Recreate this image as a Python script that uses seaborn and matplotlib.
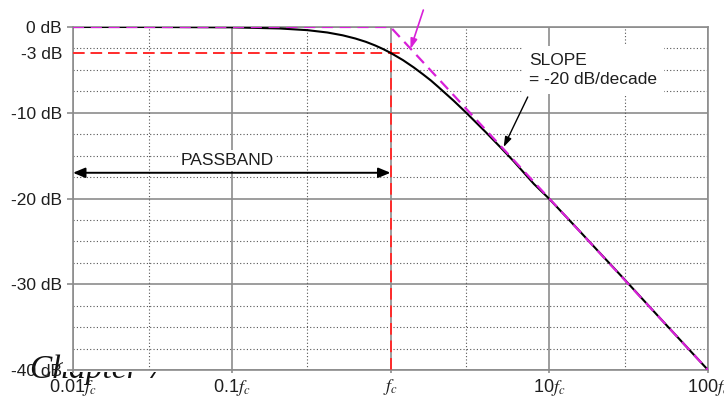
import numpy as np
import pandas as pd
import matplotlib
matplotlib.use("Agg")
import matplotlib.pyplot as plt
from matplotlib.patches import Rectangle
import seaborn as sns

# ---- data ----
freq_ratio = [0.01, 0.03, 0.1, 0.2, 0.3, 0.4, 0.5, 0.6, 0.7, 0.8, 0.9, 1.0,
              1.2, 1.4, 1.6, 1.8, 2.0, 2.5, 3.0, 4.0, 5.0, 6.0, 8.0, 10.0,
              15.0, 20.0, 30.0, 50.0, 100.0]
response_db = [0.0, 0.0, -0.04, -0.17, -0.37, -0.64, -0.97, -1.34, -1.73, -2.15,
               -2.58, -3.01, -3.87, -4.71, -5.51, -6.25, -6.99, -8.6, -10.0,
               -12.3, -14.15, -15.7, -18.3, -20.04, -23.5, -26.0, -29.5,
               -33.98, -40.0]
asymptote_freq = [0.01, 1.0, 100.0]
asymptote_db = [0.0, 0.0, -40.0]
cutoff_freq = 1.0
cutoff_db = -3.0
ytick_values = [0, -3, -10, -20, -30, -40]
ytick_labels = ["0 dB", "-3 dB", "-10 dB", "-20 dB", "-30 dB", "-40 dB"]
xtick_values = [0.01, 0.1, 1, 10, 100]
xtick_labels = ["0.01$f_c$", "0.1$f_c$", "$f_c$", "10$f_c$", "100$f_c$"]
x_minor = [0.03, 0.3, 3, 30]
y_major_grid = [0, -10, -20, -30, -40]
y_minor_grid = [-2.5, -5, -7.5, -12.5, -15, -17.5, -22.5, -25, -27.5,
                -32.5, -35, -37.5]

sns.set_theme(style="white")
plt.rcParams["font.family"] = ["Liberation Sans", "DejaVu Sans"]
plt.rcParams["mathtext.fontset"] = "stix"

MAJ = "#8c8c8c"
MIN = "#555555"
TXT = "#1e1e1e"
RED = "#ff2b2b"
MAG = "#d820d8"

fig = plt.figure(figsize=(7.24, 3.98), dpi=100)
fig.patch.set_facecolor("white")

# page heading partly hidden behind the chart picture
fig.text(30 / 724, (398 - 378) / 398, "Chapter 7", fontsize=24,
         family="Liberation Serif", style="italic", color="#111111",
         va="baseline", ha="left", zorder=-2)
fig.patches.append(Rectangle((63 / 724, (398 - 372) / 398), 1, 1,
                             transform=fig.transFigure, facecolor="white",
                             edgecolor="none", zorder=-1))

ax = fig.add_axes([73 / 724, 1 - 370 / 398, (708 - 73) / 724, (370 - 27) / 398])
ax.set_facecolor("white")
ax.set_xscale("log")
ax.set_xlim(0.01, 100)
ax.set_ylim(-40, 0)

# grid
for v in y_major_grid:
    ax.axhline(v, color=MAJ, lw=1.2, zorder=1)
for v in y_minor_grid:
    ax.axhline(v, color=MIN, lw=0.8, ls=(0, (1, 2)), zorder=1)
for v in xtick_values:
    ax.axvline(v, color=MAJ, lw=1.2, zorder=1)
for v in x_minor:
    ax.axvline(v, color=MIN, lw=0.8, ls=(0, (1, 2)), zorder=1)

# curves
df = pd.DataFrame({"f": freq_ratio, "db": response_db})
sns.lineplot(data=df, x="f", y="db", ax=ax, color="black", lw=1.5, zorder=4)
dfa = pd.DataFrame({"f": asymptote_freq, "db": asymptote_db})
sns.lineplot(data=dfa, x="f", y="db", ax=ax, color=MAG, lw=1.6,
             linestyle=(0, (5, 3)), zorder=5)

# cutoff markers
ax.plot([0.01, cutoff_freq * 1.14], [cutoff_db, cutoff_db], color=RED, lw=1.4,
        ls=(0, (6, 3)), zorder=3)
ax.plot([cutoff_freq, cutoff_freq], [-1.9, -40], color=RED, lw=1.4,
        ls=(0, (6, 3)), zorder=3)

# annotations
ax.annotate("", xy=(0.01, -17), xytext=(cutoff_freq, -17),
            arrowprops=dict(arrowstyle="<|-|>,head_length=0.6,head_width=0.25",
                            color="black", lw=1.4, shrinkA=0, shrinkB=0,
                            mutation_scale=12), zorder=6)
ax.text(0.0934, -15.6, "PASSBAND", ha="center", va="center", fontsize=12.5,
        color=TXT, zorder=5,
        bbox=dict(facecolor="white", edgecolor="none", pad=2))
ax.text(7.5, -3.05, "SLOPE\n= -20 dB/decade", ha="left", va="top", fontsize=12.5,
        color=TXT, linespacing=1.3, zorder=5,
        bbox=dict(facecolor="white", edgecolor="none", pad=5))
ax.annotate("", xy=(5.16, -14.0), xytext=(7.32, -8.16),
            arrowprops=dict(arrowstyle="-|>,head_length=0.6,head_width=0.2",
                            color="black", lw=1.0, shrinkA=0, shrinkB=0,
                            mutation_scale=10), zorder=6)
ax.annotate("", xy=(1.336, -2.57), xytext=(1.61, 1.98), annotation_clip=False,
            arrowprops=dict(arrowstyle="-|>,head_length=0.6,head_width=0.2",
                            color=MAG, lw=1.2, shrinkA=0, shrinkB=0,
                            mutation_scale=10), zorder=6)

# ticks
ax.set_yticks(ytick_values)
ax.set_yticklabels(ytick_labels, fontsize=12.5, color=TXT)
ax.set_xticks(xtick_values)
ax.set_xticklabels(xtick_labels, fontsize=13, color=TXT)
ax.xaxis.set_minor_locator(matplotlib.ticker.NullLocator())
ax.tick_params(axis="y", length=4, width=1.2, color=MAJ, pad=4, left=True)
ax.tick_params(axis="x", length=2, width=1.2, color=MAJ, pad=3, bottom=True)
ax.yaxis.get_major_ticks()[1].tick1line.set_visible(False)
ax.set_xlabel("")
ax.set_ylabel("")
for s in ax.spines.values():
    s.set_color(MAJ)
    s.set_linewidth(1.2)
    s.set_visible(True)

fig.savefig("out.png", dpi=100, facecolor="white")
